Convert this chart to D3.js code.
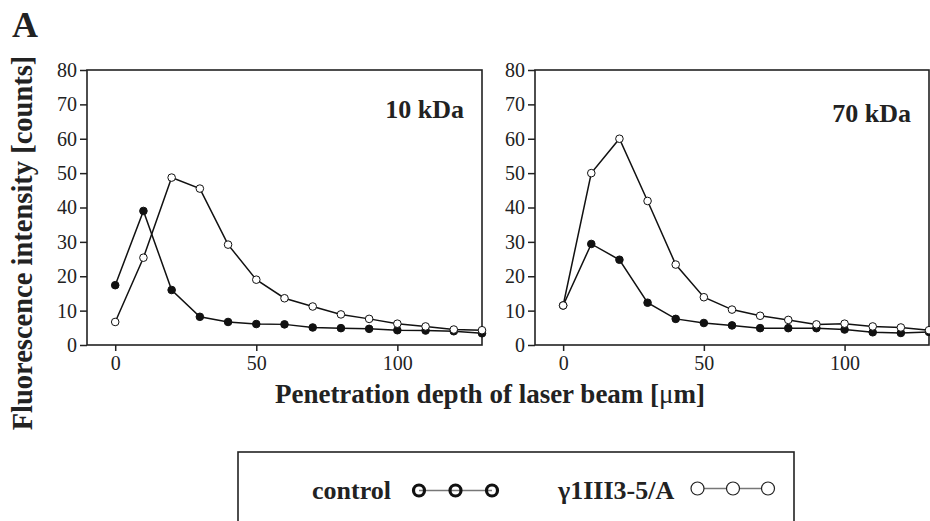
<!DOCTYPE html>
<html>
<head>
<meta charset="utf-8">
<script src="https://cdn.jsdelivr.net/npm/d3@7"></script>
<style>
  body { margin: 0; background: #fff; }
  svg { display: block; font-family: "Liberation Serif", "DejaVu Serif", serif; }
  .tick line { stroke: #222; stroke-width: 1.5; }
  .bold { font-weight: bold; fill: #222; }
</style>
</head>
<body>
<svg width="930" height="521"></svg>
<script>
// penetration depth, µm
let depth = [0, 10, 20, 30, 40, 50, 60, 70, 80, 90, 100, 110, 120, 130];

// 10 kDa panel
let control10 = [17.4, 39.0, 16.0, 8.2, 6.7, 6.1, 6.0, 5.1, 4.9, 4.7, 4.3, 4.2, 4.0, 3.4];
let mutant10 = [6.7, 25.4, 48.7, 45.5, 29.2, 19.0, 13.6, 11.2, 8.9, 7.6, 6.2, 5.4, 4.5, 4.3];

// 70 kDa panel
let control70 = [11.5, 29.4, 24.8, 12.3, 7.6, 6.4, 5.7, 4.9, 4.9, 4.9, 4.5, 3.7, 3.5, 3.8];
let mutant70 = [11.5, 50.0, 60.0, 41.9, 23.4, 13.9, 10.3, 8.5, 7.3, 6.0, 6.2, 5.4, 5.1, 4.3];

let xTicks = [0, 50, 100];
let yTicks = [0, 10, 20, 30, 40, 50, 60, 70, 80];
let panelNames = ['10 kDa', '70 kDa'];
let legendNames = ['control', 'γ1III3-5/A'];

window.onload = () => {
    let svg = d3.select('svg');
    let serif = '"Liberation Serif", "DejaVu Serif", serif';

    let panels = [
        {left: 87, right: 482, name: panelNames[0], control: control10, mutant: mutant10, labelY: 118},
        {left: 535, right: 929, name: panelNames[1], control: control70, mutant: mutant70, labelY: 122}
    ];
    let top = 70, bottom = 345;

    let y = d3.scaleLinear().domain([0, 80]).range([bottom, top]);

    let styleAxis = a => {
        a.select('.domain').remove();
        a.attr('font-family', serif).attr('font-size', 20);
        a.selectAll('text').attr('fill', '#222');
    };

    panels.forEach(p => {
        let x = d3.scaleLinear().domain([-10, 130]).range([p.left, p.right]);
        let g = svg.append('g');

        g.append('g')
            .attr('transform', 'translate(' + p.left + ',0)')
            .call(d3.axisLeft(y).tickValues(yTicks).tickSize(7).tickSizeOuter(0).tickPadding(3))
            .call(styleAxis);

        g.append('g')
            .attr('transform', 'translate(0,' + bottom + ')')
            .call(d3.axisBottom(x).tickValues(xTicks).tickSize(6).tickSizeOuter(0).tickPadding(5))
            .call(styleAxis);

        g.append('rect')
            .attr('x', p.left).attr('y', top)
            .attr('width', p.right - p.left).attr('height', bottom - top)
            .attr('fill', 'none').attr('stroke', '#222').attr('stroke-width', 1.6);

        let line = d3.line().x((d, i) => x(depth[i])).y(d => y(d));

        [p.control, p.mutant].forEach(vals => {
            g.append('path')
                .datum(vals)
                .attr('d', line)
                .attr('fill', 'none')
                .attr('stroke', '#111')
                .attr('stroke-width', 1.5);
        });

        g.selectAll('circle.c')
            .data(p.control)
            .enter().append('circle')
            .attr('cx', (d, i) => x(depth[i]))
            .attr('cy', d => y(d))
            .attr('r', 3.8)
            .attr('fill', '#111').attr('stroke', '#111').attr('stroke-width', 1);

        g.selectAll('circle.m')
            .data(p.mutant)
            .enter().append('circle')
            .attr('cx', (d, i) => x(depth[i]))
            .attr('cy', d => y(d))
            .attr('r', 3.8)
            .attr('fill', '#fff').attr('stroke', '#111').attr('stroke-width', 1);

        g.append('text')
            .attr('class', 'bold')
            .attr('x', p.right - 18).attr('y', p.labelY)
            .attr('text-anchor', 'end')
            .style('font-size', '26px')
            .text(p.name);
    });

    svg.append('text')
        .attr('class', 'bold')
        .attr('x', 12).attr('y', 37)
        .style('font-size', '36px')
        .text('A');

    svg.append('text')
        .attr('class', 'bold')
        .attr('transform', 'translate(32,243) rotate(-90)')
        .attr('text-anchor', 'middle')
        .style('font-size', '28.5px')
        .text('Fluorescence intensity [counts]');

    let xt = svg.append('text')
        .attr('class', 'bold')
        .attr('x', 490).attr('y', 403)
        .attr('text-anchor', 'middle')
        .style('font-size', '27px');
    xt.append('tspan').text('Penetration depth of laser beam [');
    xt.append('tspan').style('font-weight', 'normal').text('μ');
    xt.append('tspan').text('m]');

    // legend
    let lg = svg.append('g');
    lg.append('rect')
        .attr('x', 238).attr('y', 452).attr('width', 556).attr('height', 90)
        .attr('fill', 'none').attr('stroke', '#222').attr('stroke-width', 1.6);

    lg.append('text').attr('class', 'bold')
        .attr('x', 312).attr('y', 499).style('font-size', '26px').text(legendNames[0]);
    lg.append('text').attr('class', 'bold')
        .attr('x', 558).attr('y', 499).style('font-size', '26px').text(legendNames[1]);

    let symC = [419, 455.5, 492], symM = [697.5, 733, 768];
    lg.append('line').attr('x1', symC[0]).attr('x2', symC[2]).attr('y1', 490.5).attr('y2', 490.5)
        .attr('stroke', '#777').attr('stroke-width', 1.5);
    lg.selectAll('circle.lc').data(symC).enter().append('circle')
        .attr('cx', d => d).attr('cy', 490.5).attr('r', 5.5)
        .attr('fill', 'none').attr('stroke', '#111').attr('stroke-width', 3.2);
    lg.append('line').attr('x1', symM[0]).attr('x2', symM[2]).attr('y1', 488.5).attr('y2', 488.5)
        .attr('stroke', '#777').attr('stroke-width', 1.5);
    lg.selectAll('circle.lm').data(symM).enter().append('circle')
        .attr('cx', d => d).attr('cy', 488.5).attr('r', 6.5)
        .attr('fill', '#fff').attr('stroke', '#222').attr('stroke-width', 1.2);
};
</script>
</body>
</html>
